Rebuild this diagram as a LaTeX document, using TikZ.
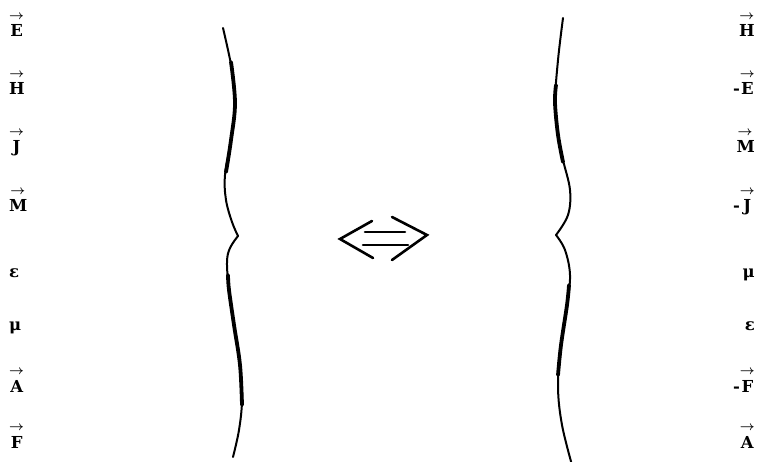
\documentclass[tikz,border=0pt]{standalone}
\usepackage{amsmath}
\usepackage{fontspec}
\setmainfont{DejaVu Serif}
\newcommand{\vecl}[1]{$\overset{\scalebox{0.75}{$\boldsymbol{\rightarrow}$}}{\text{#1}\rule{0pt}{14pt}}$}
\begin{document}
\begin{tikzpicture}[x=1pt,y=-1pt,
  lab/.style={inner sep=0pt,font=\fontsize{16.5}{18}\selectfont\bfseries},
  llab/.style={lab,anchor=base west},
  rlab/.style={lab,anchor=base east},
  thinb/.style={line width=2pt,line cap=round,line join=round},
  thickb/.style={line width=3.8pt,line cap=round},
  arr/.style={line width=2.6pt,line cap=round,line join=miter}]
\useasboundingbox (0,0) rectangle (762,462);
% left labels
\node[llab] (lE) at (9,37) {\vecl{E}};
\node[llab] (lH) at (9,95) {\vecl{H}};
\node[llab] (lJ) at (9,153) {\vecl{J}};
\node[llab] (lM) at (9,212) {\vecl{M}};
\node[llab] (leps) at (9,277) {ε};
\node[llab] (lmu) at (9,330) {μ};
\node[llab] (lA) at (9,392) {\vecl{A}};
\node[llab] (lF) at (9,448) {\vecl{F}};
% right labels
\node[rlab] (rH) at (755,37) {\vecl{H}};
\node[rlab] (rE) at (755,95) {-\vecl{E}};
\node[rlab] (rM) at (755,153) {\vecl{M}};
\node[rlab] (rJ) at (755,212) {-\vecl{J}};
\node[rlab] (rmu) at (755,277) {μ};
\node[rlab] (reps) at (755,330) {ε};
\node[rlab] (rF) at (755,392) {-\vecl{F}};
\node[rlab] (rA) at (755,448) {\vecl{A}};
% left brace
\draw[thinb] plot[smooth,tension=0.6] coordinates {(223,28) (232,70) (235,103) (231,140) (225,175) (226,200) (232,222) (238,236)};
\draw[thinb] plot[smooth,tension=0.6] coordinates {(238,236) (230,248) (227,262) (229,290) (234,325) (240,365) (242,400) (239,430) (233,457)};
\draw[thickb] plot[smooth,tension=0.6] coordinates {(231,62) (235,103) (231,140) (226,172)};
\draw[thickb] plot[smooth,tension=0.6] coordinates {(228,275) (229,290) (234,325) (240,365) (242,405)};
% right brace
\draw[thinb] plot[smooth,tension=0.6] coordinates {(563,18) (558,60) (555,103) (558,135) (563,160) (570,190) (568,215) (556,235)};
\draw[thinb] plot[smooth,tension=0.6] coordinates {(556,235) (565,250) (570,275) (567,305) (561,345) (558,387) (562,425) (572,465)};
\draw[thickb] plot[smooth,tension=0.6] coordinates {(556,85) (555,103) (558,135) (563,162)};
\draw[thickb] plot[smooth,tension=0.6] coordinates {(569,285) (567,305) (561,345) (558,375)};
% double arrow
\coordinate (al1) at (372,221); \coordinate (alt) at (340,239); \coordinate (al2) at (373,258);
\coordinate (ar1) at (392,217); \coordinate (art) at (427,235); \coordinate (ar2) at (392,260);
\coordinate (b1a) at (365,232); \coordinate (b1b) at (405,232);
\coordinate (b2a) at (363,245); \coordinate (b2b) at (408,245);
\draw[arr] (al1) -- (alt) -- (al2);
\draw[arr] (ar1) -- (art) -- (ar2);
\draw[arr] (b1a) -- (b1b);
\draw[arr] (b2a) -- (b2b);
\end{tikzpicture}
\end{document}
